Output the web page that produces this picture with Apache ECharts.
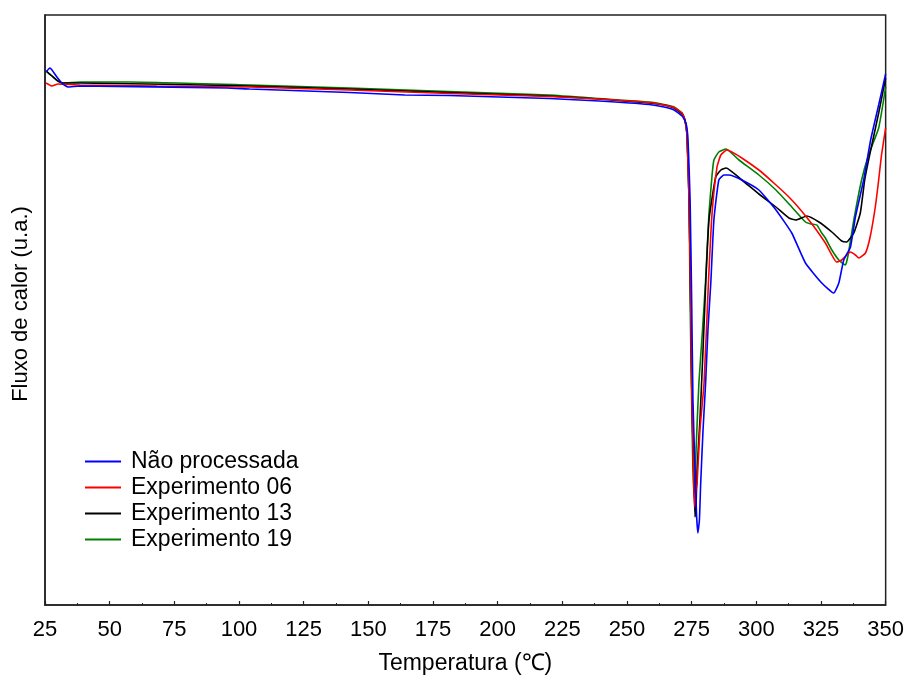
<!DOCTYPE html>
<html>
<head>
<meta charset="utf-8">
<script src="https://cdn.jsdelivr.net/npm/echarts@6/dist/echarts.min.js"></script>
<style>
  html, body { margin: 0; padding: 0; background: #fff; }
  #chart { width: 907px; height: 682px; }
</style>
</head>
<body>
<div id="chart"></div>
<script>
// DSC curves: temperature (°C) vs heat flow (arbitrary units)
const seriesNames = ['Não processada', 'Experimento 06', 'Experimento 13', 'Experimento 19'];
const seriesColors = ['#0000ff', '#ff0000', '#000000', '#008000'];
const xTicks = [25, 50, 75, 100, 125, 150, 175, 200, 225, 250, 275, 300, 325, 350];

const naoProcessada = [
  [25.4, 533], [26.9, 537], [27.7, 535], [29.6, 528], [31.9, 521], [33.9, 518],
  [38.5, 519], [95.3, 517], [104.1, 516], [142.7, 512.5], [164.0, 510], [181.3, 509.5],
  [220.0, 506.5], [239.3, 504], [258.6, 500.5], [264.3, 498], [268.2, 495], [271.3, 489],
  [272.8, 482], [273.6, 465], [274.4, 405], [275.0, 305], [275.5, 205], [276.3, 135],
  [276.9, 90], [277.4, 72], [278.0, 85], [278.5, 122], [279.4, 175], [280.4, 222],
  [281.3, 275], [282.4, 322], [283.6, 385], [285.5, 425], [287.5, 430], [289.4, 430],
  [294.4, 425], [301.0, 415], [307.6, 395], [313.7, 372], [319.0, 342], [325.3, 322],
  [329.9, 312], [331.9, 322], [333.8, 345], [336.4, 358], [338.3, 388], [341.5, 425],
  [344.2, 465], [347.3, 500], [350.0, 531]
];

const experimento06 = [
  [25.4, 522], [27.7, 519], [30.0, 521], [38.5, 520], [68.2, 519], [104.1, 518],
  [142.7, 515], [181.3, 511.5], [220.0, 508.5], [239.3, 506], [258.6, 502.5], [264.3, 500],
  [268.2, 497.5], [271.3, 492], [272.4, 485], [273.2, 470], [274.0, 405], [274.6, 305],
  [275.1, 205], [275.7, 135], [276.1, 98], [276.7, 115], [277.1, 122], [278.2, 175],
  [279.8, 222], [281.5, 323], [282.9, 392], [284.8, 438], [286.3, 450], [288.6, 455],
  [301.0, 435], [312.6, 408], [320.3, 385], [326.7, 362], [331.1, 343], [333.0, 345],
  [336.4, 353], [338.3, 350], [339.6, 347], [342.2, 352], [344.0, 368], [346.0, 398],
  [347.3, 425], [348.4, 450], [350.0, 477]
];

const experimento13 = [
  [25.4, 534], [27.7, 529], [30.0, 524], [31.9, 522], [38.5, 522], [104.1, 519],
  [142.7, 516], [181.3, 512.5], [220.0, 509], [239.3, 506], [258.6, 502], [264.3, 500],
  [268.2, 497], [271.3, 491], [272.4, 485], [273.2, 470], [274.0, 405], [274.6, 305],
  [275.1, 205], [275.9, 125], [276.3, 88], [276.7, 100], [277.1, 135], [278.2, 185],
  [279.4, 255], [280.5, 325], [281.7, 385], [284.3, 428], [286.3, 435], [288.3, 437],
  [294.4, 425], [301.0, 411], [307.6, 398], [312.6, 387], [315.3, 385], [319.5, 389],
  [324.2, 383], [329.2, 373], [333.0, 364], [334.9, 363], [337.7, 372], [340.2, 392],
  [341.9, 425], [343.4, 445], [347.3, 492], [350.0, 527]
];

const experimento19 = [
  [25.4, 534], [27.7, 529], [30.0, 524], [31.9, 522], [38.5, 523], [57.8, 523],
  [104.1, 520], [142.7, 517], [181.3, 513.5], [220.0, 510], [239.3, 506.5], [247.0, 505],
  [258.6, 503], [264.3, 500.5], [268.2, 498], [271.3, 492], [272.4, 485], [273.2, 470],
  [274.0, 405], [274.4, 305], [275.0, 205], [275.5, 135], [276.1, 107], [276.7, 155],
  [277.8, 222], [279.2, 275], [280.4, 325], [281.7, 392], [282.9, 430], [283.6, 445],
  [285.5, 453], [288.3, 456], [293.3, 445], [301.0, 430], [307.6, 415], [313.7, 398],
  [319.0, 383], [321.1, 381], [323.4, 380], [325.3, 372], [326.7, 367], [329.2, 355],
  [331.9, 345], [334.4, 340], [334.9, 343], [335.7, 353], [337.7, 385], [340.7, 425],
  [343.4, 450], [347.3, 477], [350.0, 518]
];

const seriesData = [naoProcessada, experimento06, experimento13, experimento19];

const chart = echarts.init(document.getElementById('chart'), null, { renderer: 'canvas' });
const FONT = "'Liberation Sans', Arial, Helvetica, sans-serif";
const AXIS_COLOR = '#222';

chart.setOption({
  animation: false,
  backgroundColor: '#ffffff',
  grid: {
    left: 45, right: 19, top: 15, bottom: 77,
    show: true, borderColor: AXIS_COLOR, borderWidth: 1.5, backgroundColor: 'transparent'
  },
  legend: {
    orient: 'vertical',
    left: 85, top: 450,
    padding: 0,
    itemGap: 3,
    itemWidth: 36, itemHeight: 2,
    icon: 'rect',
    data: seriesNames,
    textStyle: { fontFamily: FONT, fontSize: 23, color: '#000', lineHeight: 23, padding: [0, 0, 0, 5] }
  },
  xAxis: {
    type: 'value',
    min: xTicks[0], max: xTicks[xTicks.length - 1], interval: 25,
    name: 'Temperatura (℃)',
    nameLocation: 'middle',
    nameGap: 47,
    nameTextStyle: { fontFamily: FONT, fontSize: 23, color: '#000' },
    axisLine: { show: true, lineStyle: { color: AXIS_COLOR, width: 1.5 } },
    axisTick: { show: true, inside: true, length: 4, lineStyle: { color: AXIS_COLOR, width: 1.2 } },
    minorTick: { show: true, splitNumber: 2, length: 2, lineStyle: { color: AXIS_COLOR, width: 1 } },
    axisLabel: { fontFamily: FONT, fontSize: 22, color: '#000', margin: 14,
      formatter: v => xTicks.includes(v) ? String(v) : '' },
    splitLine: { show: false }
  },
  yAxis: {
    type: 'value',
    min: 0, max: 590,
    name: 'Fluxo de calor (u.a.)',
    nameLocation: 'middle',
    nameGap: 13,
    nameTextStyle: { fontFamily: FONT, fontSize: 22, color: '#000', padding: [0, 0, 0, 12] },
    axisLine: { show: true, lineStyle: { color: AXIS_COLOR, width: 1.5 } },
    axisTick: { show: false },
    axisLabel: { show: false },
    splitLine: { show: false }
  },
  series: seriesNames.map((name, i) => ({
    name: name,
    type: 'line',
    data: seriesData[i],
    showSymbol: false,
    symbol: 'none',
    smooth: 0.15,
    lineStyle: { color: seriesColors[i], width: 1.6 },
    itemStyle: { color: seriesColors[i] },
    z: 4 - i
  }))
});
</script>
</body>
</html>
